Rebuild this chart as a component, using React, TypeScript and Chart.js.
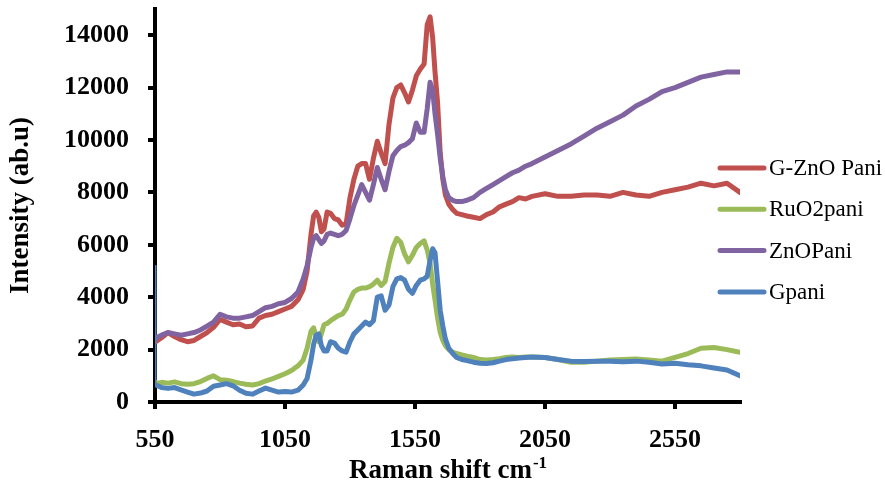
import React, { useEffect, useRef } from "react";
import { Chart, registerables } from "chart.js";

Chart.register(...registerables);

const ramanShift = [
  550, 553, 575, 600, 625, 650, 675, 700, 725, 750,
  775, 800, 825, 850, 875, 900, 925, 950, 975, 1000,
  1025, 1050, 1075, 1100, 1120, 1135, 1150, 1160, 1170, 1180,
  1190, 1200, 1212, 1225, 1240, 1255, 1270, 1285, 1300, 1315,
  1330, 1345, 1360, 1375, 1390, 1405, 1420, 1435, 1450, 1465,
  1480, 1495, 1510, 1525, 1540, 1555, 1570, 1585, 1597, 1608,
  1618, 1627, 1637, 1647, 1657, 1667, 1680, 1695, 1710, 1730,
  1750, 1775, 1800, 1825, 1850, 1875, 1900, 1925, 1950, 1975,
  2000, 2050, 2100, 2150, 2200, 2250, 2300, 2350, 2400, 2450,
  2500, 2550, 2600, 2650, 2700, 2750, 2800,
];

const gZnOPani = [
  2350, 2300, 2450, 2650, 2500, 2380, 2300, 2350, 2500, 2650,
  2850, 3150, 3050, 2950, 2980, 2870, 2900, 3200, 3300, 3350,
  3450, 3550, 3650, 3900, 4300, 5000, 6400, 7100, 7250, 7050,
  6500, 6600, 7250, 7200, 7000, 6950, 6750, 6800, 7800, 8500,
  9000, 9100, 9100, 8500, 9300, 9950, 9500, 9100, 10600, 11600,
  12000, 12100, 11800, 11450, 11900, 12450, 12700, 12900, 14400, 14700,
  13900, 12600, 11400, 9500, 8500, 7900, 7550, 7350, 7200, 7150,
  7100, 7050, 7000, 7150, 7250, 7450, 7550, 7650, 7800, 7750,
  7850, 7950, 7850, 7850, 7900, 7900, 7850, 8000, 7900, 7850,
  8000, 8100, 8200, 8350, 8250, 8350, 8000,
];

const ruO2Pani = [
  750, 700, 750, 720, 770, 700, 680, 700, 780, 900,
  1000, 850, 830, 780, 720, 680, 650, 700, 800, 880,
  980, 1080, 1200, 1380, 1600, 2050, 2700, 2830, 2500, 2300,
  2600, 2950, 3000, 3100, 3200, 3300, 3350, 3550, 3900, 4200,
  4300, 4350, 4350, 4400, 4500, 4650, 4450, 4600, 5300, 5900,
  6250, 6100, 5650, 5350, 5600, 5900, 6050, 6150, 5800, 5300,
  4500, 3900, 3200, 2650, 2350, 2150, 2000, 1900, 1850, 1800,
  1750, 1700, 1620, 1600, 1620, 1650, 1700, 1720, 1700, 1720,
  1720, 1700, 1620, 1520, 1520, 1560, 1600, 1620, 1640, 1600,
  1560, 1700, 1850, 2050, 2080, 2000, 1900,
];

const znOPani = [
  2400, 2450, 2550, 2650, 2600, 2550, 2600, 2650, 2750, 2900,
  3050, 3350, 3250, 3200, 3200, 3250, 3300, 3450, 3600, 3650,
  3750, 3800, 3950, 4200, 4700, 5200, 5900, 6250, 6350, 6200,
  6050, 6150, 6400, 6450, 6400, 6350, 6400, 6550, 7000, 7500,
  7900, 8300, 8000, 7700, 8300, 8950, 8500, 8100, 8800, 9400,
  9600, 9750, 9800, 9900, 10050, 10650, 10300, 10300, 11200, 12200,
  11900, 11000, 10200, 9300, 8600, 8100, 7800, 7700, 7650, 7650,
  7700, 7800, 8000, 8150, 8300, 8450, 8600, 8750, 8850, 9000,
  9100, 9350, 9600, 9850, 10150, 10450, 10700, 10950, 11300, 11550,
  11850, 12000, 12200, 12400, 12500, 12600, 12600,
];

const gPani = [
  5200, 650, 550, 520, 550, 460, 380, 300, 340, 420,
  600, 650, 700, 620, 450, 330, 300, 420, 530, 450,
  380, 400, 380, 450, 650, 900, 1600, 2200, 2550, 2600,
  2150, 1950, 1950, 2300, 2250, 2050, 1950, 1900, 2300, 2600,
  2750, 2900, 3050, 2950, 3100, 4000, 4050, 3500, 3700, 4400,
  4700, 4750, 4650, 4300, 4150, 4450, 4650, 4700, 4800, 5400,
  5850, 5700, 4600, 3500, 2900, 2400, 2050, 1850, 1700, 1620,
  1580, 1520, 1480, 1470, 1500, 1560, 1620, 1650, 1680, 1700,
  1720, 1700, 1620, 1560, 1550, 1560, 1560, 1540, 1560, 1520,
  1450, 1480, 1420, 1380, 1300, 1220, 1000,
];

const seriesNames = ["G-ZnO Pani", "RuO2pani", "ZnOPani", "Gpani"];
const seriesColors = ["#C0504D", "#9BBB59", "#8064A2", "#4F81BD"];
const seriesValues = [gZnOPani, ruO2Pani, znOPani, gPani];
const drawOrder = [4, 3, 2, 1];

const xTicks = [550, 1050, 1550, 2050, 2550];
const yTicks = [0, 2000, 4000, 6000, 8000, 10000, 12000, 14000];
const xMin = 550;
const xMax = 2800;
const yMin = 0;
const yMax = 15000;

const xTitle = "Raman shift cm";
const xTitleSup = "-1";
const yTitle = "Intensity (ab.u)";

const FONT = "'Liberation Serif', 'Times New Roman', serif";

const customPlugin = {
  id: "customDecor",
  afterDraw(chart: any) {
    const ctx = chart.ctx as CanvasRenderingContext2D;
    const ca = chart.chartArea;
    ctx.save();
    // X axis title with superscript
    ctx.fillStyle = "#000";
    ctx.textBaseline = "alphabetic";
    ctx.textAlign = "left";
    ctx.font = `bold 27px ${FONT}`;
    const w1 = ctx.measureText(xTitle).width;
    ctx.font = `bold 17px ${FONT}`;
    const w2 = ctx.measureText(xTitleSup).width;
    const cx = (ca.left + ca.right) / 2;
    const start = cx - (w1 + w2) / 2;
    ctx.font = `bold 27px ${FONT}`;
    ctx.fillText(xTitle, start, 478);
    ctx.font = `bold 17px ${FONT}`;
    ctx.fillText(xTitleSup, start + w1 + 1, 468);

    // Legend
    const ds = chart.data.datasets;
    ds.forEach((d: any, i: number) => {
      const y = 168 + i * 41.3;
      ctx.strokeStyle = d.borderColor;
      ctx.lineWidth = 5;
      ctx.lineCap = "round";
      ctx.beginPath();
      ctx.moveTo(720, y);
      ctx.lineTo(764, y);
      ctx.stroke();
      ctx.fillStyle = "#000";
      ctx.font = `23px ${FONT}`;
      ctx.textBaseline = "middle";
      ctx.fillText(d.label, 769, y + 1);
    });
    ctx.restore();
  },
};

export default function App() {
  const canvasRef = useRef<HTMLCanvasElement | null>(null);

  useEffect(() => {
    if (!canvasRef.current) return;
    const datasets = seriesNames.map((name, s) => ({
      label: name,
      data: ramanShift.map((x, i) => ({ x, y: seriesValues[s][i] })),
      borderColor: seriesColors[s],
      backgroundColor: seriesColors[s],
      borderWidth: 5,
      pointRadius: 0,
      tension: 0,
      borderJoinStyle: "round" as const,
      borderCapStyle: "round" as const,
      order: drawOrder[s],
      segment: {
        borderWidth: (ctx: any) => (ctx.p0DataIndex === 0 && s === 3 ? 1.5 : 5),
      },
    }));

    const chart = new Chart(canvasRef.current, {
      type: "line",
      data: { datasets },
      plugins: [customPlugin],
      options: {
        animation: false,
        responsive: false,
        devicePixelRatio: 1,
        layout: { padding: { left: 0, right: 145, top: 9, bottom: 0 } },
        plugins: {
          legend: { display: false },
          tooltip: { enabled: false },
        },
        scales: {
          x: {
            type: "linear",
            min: xMin,
            max: xMax,
            afterBuildTicks: (scale: any) => {
              scale.ticks = xTicks.map((v) => ({ value: v }));
            },
            afterFit: (scale: any) => {
              scale.height = 82;
              scale.paddingLeft = 0;
              scale.paddingRight = 0;
            },
            grid: {
              drawOnChartArea: false,
              drawTicks: true,
              tickLength: 7,
              color: "#000",
              lineWidth: 4,
            },
            border: { display: true, color: "#000", width: 4 },
            ticks: {
              color: "#000",
              padding: 16,
              maxRotation: 0,
              autoSkip: false,
              font: { family: FONT, size: 26, weight: "bold" },
              callback: (v: any) => String(v),
            },
            title: { display: false },
          },
          y: {
            type: "linear",
            min: yMin,
            max: yMax,
            afterBuildTicks: (scale: any) => {
              scale.ticks = yTicks.map((v) => ({ value: v }));
            },
            afterFit: (scale: any) => {
              scale.width = 155;
              scale.paddingTop = 0;
              scale.paddingBottom = 0;
            },
            grid: {
              drawOnChartArea: false,
              drawTicks: true,
              tickLength: 7,
              color: "#000",
              lineWidth: 4,
            },
            border: { display: true, color: "#000", width: 4 },
            ticks: {
              color: "#000",
              padding: 19,
              font: { family: FONT, size: 26, weight: "bold" },
              callback: (v: any) => String(v),
            },
            title: {
              display: true,
              text: yTitle,
              color: "#000",
              padding: { top: 8, bottom: 0 },
              font: { family: FONT, size: 27, weight: "bold", lineHeight: 1 },
            },
          },
        },
      },
    });
    return () => chart.destroy();
  }, []);

  return (
    <div style={{ position: "fixed", left: 0, top: 0, width: 885, height: 484, background: "#fff" }}>
      <canvas ref={canvasRef} width={885} height={484} style={{ display: "block" }} />
    </div>
  );
}
